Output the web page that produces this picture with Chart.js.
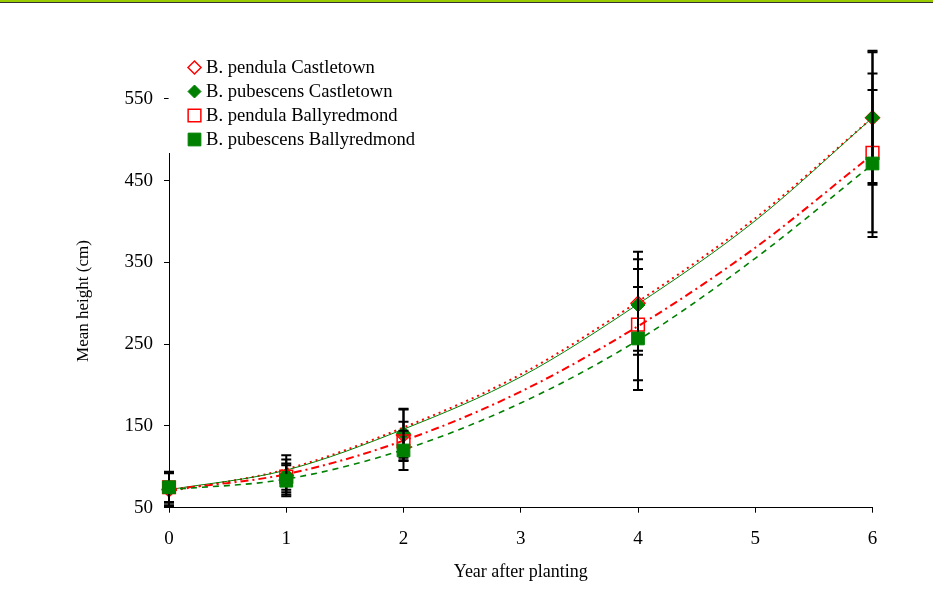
<!DOCTYPE html>
<html><head><meta charset="utf-8">
<script src="https://cdn.jsdelivr.net/npm/chart.js@4/dist/chart.umd.min.js"></script>
<style>
html,body{margin:0;padding:0;background:#fff;}
#wrap{position:relative;width:933px;height:599px;overflow:hidden;}
#bar{position:absolute;left:0;top:0;width:933px;height:2px;background:#99cc00;border-bottom:1px solid #333;z-index:2}
canvas{position:absolute;left:0;top:0}
</style></head><body>
<div id="wrap"><div id="bar"></div><canvas id="c" width="933" height="599"></canvas></div>
<script>
// ---- data ----
const years = [0, 1, 2, 4, 6];
const trendYears = [0, 1, 2, 3, 4, 5, 6];
const seriesNames = ['B. pendula Castletown', 'B. pubescens Castletown', 'B. pendula Ballyredmond', 'B. pubescens Ballyredmond'];

const pendulaCastletown = [72, 89, 139, 300, 527];
const pubescensCastletown = [73, 90, 141, 298, 527];
const pendulaBallyredmond = [75, 88, 131, 274, 484];
const pubescensBallyredmond = [75, 83, 120, 257, 471];

const errPendulaCastletown = [20, 20, 31, 63, 82];
const errPubescensCastletown = [20, 24, 30, 56, 80];
const errPendulaBallyredmond = [18, 16, 24, 68, 97];
const errPubescensBallyredmond = [19, 19, 24, 63, 90];

const trendPendulaCastletown = [70, 97, 148, 213, 302, 404, 527];
const trendPubescensCastletown = [72, 96, 146, 210, 299, 401, 527];
const trendPendulaBallyredmond = [72, 91, 132, 192, 272, 368, 482];
const trendPubescensBallyredmond = [72, 85, 121, 178, 255, 355, 470];

const xTicks = [0, 1, 2, 3, 4, 5, 6];
const yTicks = [50, 150, 250, 350, 450, 550];
const xTitle = 'Year after planting';
const yTitle = 'Mean height (cm)';

// ---- build ----
const RED = '#ff0000', GREEN = '#008000';
const FONT = "'Liberation Serif', 'Times New Roman', serif";
const pts = (xs, ys) => xs.map((x, i) => ({x: x, y: ys[i]}));

function trend(name, ys, color, dash, width, order) {
  return {type: 'line', label: name + ' trend', data: pts(trendYears, ys), borderColor: color,
    borderWidth: width, borderDash: dash, pointRadius: 0, fill: false, tension: 0.4,
    cubicInterpolationMode: 'monotone', clip: false, order: order, isTrend: true};
}
function markers(name, ys, errs, color, style, filled, radius, order) {
  return {type: 'line', label: name, data: pts(years, ys), showLine: false, errors: errs,
    pointStyle: style, pointRadius: radius, pointHoverRadius: radius,
    pointBackgroundColor: filled ? color : 'rgba(0,0,0,0)', pointBorderColor: color,
    pointBorderWidth: filled ? 1 : 1.5, borderColor: color, backgroundColor: filled ? color : 'rgba(0,0,0,0)',
    clip: false, order: order};
}

const datasets = [
  trend(seriesNames[0], trendPendulaCastletown, RED, [2, 4], 2, 14),
  trend(seriesNames[1], trendPubescensCastletown, GREEN, [], 1, 13),
  trend(seriesNames[2], trendPendulaBallyredmond, RED, [8, 4, 2, 4], 2, 12),
  trend(seriesNames[3], trendPubescensBallyredmond, GREEN, [6, 5], 1.6, 11),
  markers(seriesNames[0], pendulaCastletown, errPendulaCastletown, RED, 'rectRot', false, 7, 4),
  markers(seriesNames[1], pubescensCastletown, errPubescensCastletown, GREEN, 'rectRot', true, 7, 3),
  markers(seriesNames[2], pendulaBallyredmond, errPendulaBallyredmond, RED, 'rect', false, 9, 2),
  markers(seriesNames[3], pubescensBallyredmond, errPubescensBallyredmond, GREEN, 'rect', true, 9, 1)
];

const errorBars = {
  id: 'errorBars',
  beforeDatasetDraw(chart, args) {
    const ds = chart.data.datasets[args.index];
    if (!ds.errors) return;
    const xs = chart.scales.x, ys = chart.scales.y, ctx = chart.ctx;
    ctx.save();
    ctx.strokeStyle = '#000'; ctx.lineWidth = 2;
    ds.data.forEach((p, i) => {
      const e = ds.errors[i];
      const px = xs.getPixelForValue(p.x);
      const top = ys.getPixelForValue(p.y + e);
      const bot = ys.getPixelForValue(Math.max(p.y - e, ys.min));
      ctx.beginPath();
      ctx.moveTo(px, top); ctx.lineTo(px, bot);
      ctx.moveTo(px - 5, top); ctx.lineTo(px + 5, top);
      if (p.y - e >= ys.min) { ctx.moveTo(px - 5, bot); ctx.lineTo(px + 5, bot); }
      ctx.stroke();
    });
    ctx.restore();
  }
};

function drawMarker(ctx, style, x, y, r, color, filled) {
  ctx.beginPath();
  if (style === 'rectRot') {
    ctx.moveTo(x - r, y); ctx.lineTo(x, y - r); ctx.lineTo(x + r, y); ctx.lineTo(x, y + r); ctx.closePath();
  } else {
    const s = r * Math.SQRT1_2;
    ctx.rect(x - s, y - s, 2 * s, 2 * s);
  }
  if (filled) { ctx.fillStyle = color; ctx.fill(); ctx.strokeStyle = color; ctx.lineWidth = 1; ctx.stroke(); }
  else { ctx.strokeStyle = color; ctx.lineWidth = 1.5; ctx.stroke(); }
}

const overlay = {
  id: 'overlay',
  afterDraw(chart) {
    const ctx = chart.ctx;
    ctx.save();
    // legend box (white, covers the axis line as in the original)
    ctx.fillStyle = '#fff';
    ctx.fillRect(168.6, 55, 255, 98);
    const items = chart.data.datasets.filter(d => !d.isTrend);
    items.forEach((d, i) => {
      const cy = 67.5 + i * 24;
      drawMarker(ctx, d.pointStyle, 194.5, cy, d.pointStyle === 'rect' ? 9 : 6.5, d.pointBorderColor,
        d.pointBackgroundColor !== 'rgba(0,0,0,0)');
      ctx.fillStyle = '#000';
      ctx.font = '18.6px ' + FONT;
      ctx.textAlign = 'left'; ctx.textBaseline = 'middle';
      ctx.fillText(d.label, 206, cy + 1);
    });
    // y axis title
    ctx.translate(84, 301);
    ctx.rotate(-Math.PI / 2);
    ctx.fillStyle = '#000';
    ctx.font = '17px ' + FONT;
    ctx.textAlign = 'center'; ctx.textBaseline = 'middle';
    ctx.fillText(yTitle, 0, 0);
    ctx.restore();
  }
};

new Chart(document.getElementById('c'), {
  data: {datasets: datasets},
  options: {
    responsive: false, animation: false, devicePixelRatio: 1,
    layout: {padding: {top: 58, right: 60.5, bottom: 0, left: 0}},
    plugins: {legend: {display: false}, tooltip: {enabled: false}},
    scales: {
      x: {
        type: 'linear', min: 0, max: 6,
        afterBuildTicks: s => { s.ticks = xTicks.map(v => ({value: v})); },
        afterFit: s => { s.height = 91.3; },
        ticks: {color: '#000', font: {family: FONT, size: 19}, padding: 15},
        grid: {drawOnChartArea: false, drawTicks: true, tickLength: 5, tickColor: '#000', tickWidth: 1},
        border: {color: '#000', width: 1},
        title: {display: true, text: xTitle, color: '#000', font: {family: FONT, size: 18}, padding: {top: 0, bottom: 16}}
      },
      y: {
        type: 'linear', min: 50, max: 600,
        afterBuildTicks: s => { s.ticks = yTicks.map(v => ({value: v})); },
        afterFit: s => { s.width = 169; },
        ticks: {color: '#000', font: {family: FONT, size: 19}, padding: 11},
        grid: {drawOnChartArea: false, drawTicks: true, tickLength: 5, tickColor: '#000', tickWidth: 1},
        border: {color: '#000', width: 1}
      }
    }
  },
  plugins: [errorBars, overlay]
});
</script>
</body></html>
